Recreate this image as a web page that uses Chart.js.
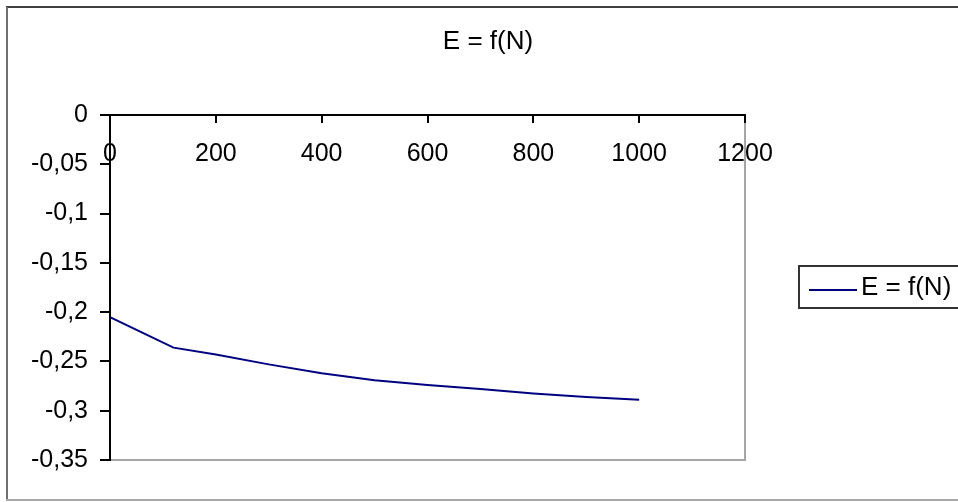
<!DOCTYPE html>
<html>
<head>
<meta charset="utf-8">
<title>E = f(N)</title>
<script src="https://cdn.jsdelivr.net/npm/chart.js@4.4.1/dist/chart.umd.min.js"></script>
<style>
  html, body { margin: 0; padding: 0; background: #fff; }
  #wrap { width: 958px; height: 502px; }
</style>
</head>
<body>
<div id="wrap"><canvas id="chart" width="958" height="502"></canvas></div>
<script>
// Values
const chartTitle = "E = f(N)";
const seriesLabel = "E = f(N)";
const nValues = [0, 120, 200, 300, 400, 500, 600, 700, 800, 900, 1000];
const eValues = [-0.205, -0.236, -0.243, -0.253, -0.262, -0.269, -0.274, -0.278, -0.2825, -0.286, -0.289];

// Axis ticks (Excel style, comma decimals)
const xTickValues = [0, 200, 400, 600, 800, 1000, 1200];
const xTickLabels = ["0", "200", "400", "600", "800", "1000", "1200"];
const yTickValues = [0, -0.05, -0.1, -0.15, -0.2, -0.25, -0.3, -0.35];
const yTickLabels = ["0", "-0,05", "-0,1", "-0,15", "-0,2", "-0,25", "-0,3", "-0,35"];

Chart.defaults.font.family = '"Liberation Sans", Arial, sans-serif';
Chart.defaults.color = "#000";

// Outer frame, plot edges, title and legend box
const framePlugin = {
  id: "frame",
  beforeDraw(chart) {
    const ctx = chart.ctx;
    const a = chart.chartArea;
    ctx.save();
    ctx.fillStyle = "#fff";
    ctx.fillRect(0, 0, chart.width, chart.height);

    ctx.lineWidth = 2;
    ctx.strokeStyle = "#404040";
    ctx.beginPath();
    ctx.moveTo(6, 7); ctx.lineTo(chart.width, 7);
    ctx.stroke();
    ctx.strokeStyle = "#707070";
    ctx.beginPath();
    ctx.moveTo(7, 7); ctx.lineTo(7, 500);
    ctx.stroke();
    ctx.strokeStyle = "#a8a8a8";
    ctx.beginPath();
    ctx.moveTo(6, 500); ctx.lineTo(chart.width, 500);
    ctx.stroke();

    // right and bottom edges of the plot area
    ctx.strokeStyle = "#a6a6a6";
    ctx.beginPath();
    ctx.moveTo(a.right, a.top);
    ctx.lineTo(a.right, a.bottom);
    ctx.lineTo(a.left, a.bottom);
    ctx.stroke();
    ctx.restore();
  },
  afterDraw(chart) {
    const ctx = chart.ctx;
    const ds = chart.data.datasets[0];
    ctx.save();
    // title
    ctx.fillStyle = "#000";
    ctx.font = '26px "Liberation Sans", Arial, sans-serif';
    ctx.textAlign = "center";
    ctx.textBaseline = "middle";
    ctx.fillText(chartTitle, 488, 42);

    // legend
    ctx.strokeStyle = "#333";
    ctx.lineWidth = 2;
    ctx.strokeRect(799, 266, 200, 42);
    ctx.strokeStyle = ds.borderColor;
    ctx.beginPath();
    ctx.moveTo(809, 290);
    ctx.lineTo(857, 290);
    ctx.stroke();
    ctx.textAlign = "left";
    ctx.fillText(ds.label, 861, 288);
    ctx.restore();
  }
};

const ctx = document.getElementById("chart");
new Chart(ctx, {
  type: "line",
  data: {
    datasets: [{
      label: seriesLabel,
      data: nValues.map((n, i) => ({ x: n, y: eValues[i] })),
      borderColor: "#000080",
      backgroundColor: "#000080",
      borderWidth: 2,
      pointRadius: 0,
      tension: 0
    }]
  },
  options: {
    responsive: false,
    animation: false,
    layout: { padding: { top: 115, right: 213, bottom: 42, left: 0 } },
    plugins: {
      legend: { display: false },
      title: { display: false },
      tooltip: { enabled: false }
    },
    scales: {
      x: {
        type: "linear",
        position: { y: 0 },
        min: 0,
        max: 1200,
        afterBuildTicks: s => { s.ticks = xTickValues.map(v => ({ value: v })); },
        ticks: {
          callback: (v, i) => xTickLabels[i],
          font: { size: 25 },
          padding: 17,
          autoSkip: false,
          maxRotation: 0
        },
        grid: { drawOnChartArea: false, tickLength: 7, color: "#000", lineWidth: 2 },
        border: { display: true, color: "#000", width: 2 }
      },
      y: {
        type: "linear",
        min: -0.35,
        max: 0,
        afterBuildTicks: s => { s.ticks = yTickValues.map(v => ({ value: v })); },
        afterFit: s => { s.width = 110; },
        ticks: {
          callback: (v, i) => yTickLabels[i],
          font: { size: 25 },
          padding: 12,
          autoSkip: false
        },
        grid: { drawOnChartArea: false, tickLength: 10, color: "#000", lineWidth: 2 },
        border: { display: true, color: "#000", width: 2 }
      }
    }
  },
  plugins: [framePlugin]
});
</script>
</body>
</html>
